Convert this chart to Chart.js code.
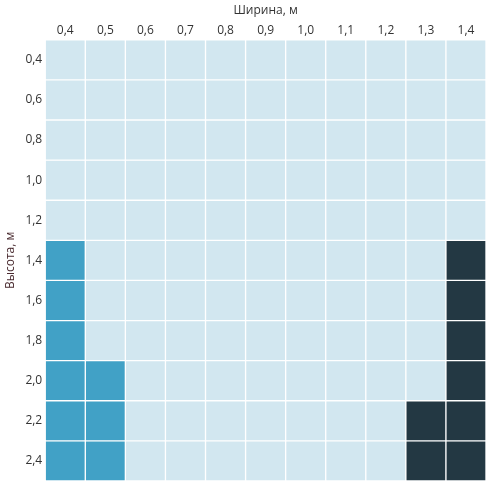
<!DOCTYPE html>
<html lang="ru">
<head>
<meta charset="UTF-8">
<title>Ширина и высота</title>
<script src="https://cdn.jsdelivr.net/npm/chart.js"></script>
<style>
    body { margin: 0; padding: 0; background: #fff; }
    #wrap { width: 500px; height: 500px; }
</style>
</head>
<body>
<div id="wrap"><canvas id="grid" width="500" height="500"></canvas></div>
<script>
    // columns (width, m) and rows (height, m)
    const widths = ['0,4', '0,5', '0,6', '0,7', '0,8', '0,9', '1,0', '1,1', '1,2', '1,3', '1,4'];
    const heights = ['0,4', '0,6', '0,8', '1,0', '1,2', '1,4', '1,6', '1,8', '2,0', '2,2', '2,4'];

    // cell class per row: 0 = light, 1 = blue, 2 = dark
    const row04 = [0,0,0,0,0,0,0,0,0,0,0];
    const row06 = [0,0,0,0,0,0,0,0,0,0,0];
    const row08 = [0,0,0,0,0,0,0,0,0,0,0];
    const row10 = [0,0,0,0,0,0,0,0,0,0,0];
    const row12 = [0,0,0,0,0,0,0,0,0,0,0];
    const row14 = [1,0,0,0,0,0,0,0,0,0,2];
    const row16 = [1,0,0,0,0,0,0,0,0,0,2];
    const row18 = [1,0,0,0,0,0,0,0,0,0,2];
    const row20 = [1,1,0,0,0,0,0,0,0,0,2];
    const row22 = [1,1,0,0,0,0,0,0,0,2,2];
    const row24 = [1,1,0,0,0,0,0,0,0,2,2];
    const rows = [row04, row06, row08, row10, row12, row14, row16, row18, row20, row22, row24];

    const palette = ['#d2e7f0', '#41a1c6', '#233843'];
    const font = { family: "'Open Sans', sans-serif", size: 12 };

    const datasets = rows.map((r, i) => ({
        label: heights[i],
        data: widths.map(() => 1),
        backgroundColor: r.map(c => palette[c]),
        borderColor: '#ffffff',
        borderWidth: 1,
        borderSkipped: false,
        categoryPercentage: 1,
        barPercentage: 1
    }));

    new Chart(document.getElementById('grid'), {
        type: 'bar',
        data: { labels: widths, datasets: datasets },
        options: {
            responsive: false,
            animation: false,
            layout: { padding: { right: 14, bottom: 19 } },
            plugins: { legend: { display: false }, tooltip: { enabled: false } },
            scales: {
                x: {
                    position: 'top',
                    stacked: true,
                    grid: { display: false, drawTicks: false },
                    border: { display: false },
                    ticks: { color: '#333', font: font, padding: 2, maxRotation: 0 },
                    title: { display: true, text: 'Ширина, м', color: '#333', font: font, padding: { top: 3, bottom: 4 } }
                },
                y: {
                    stacked: true,
                    reverse: true,
                    min: 0,
                    max: heights.length,
                    grid: { display: false, drawTicks: false },
                    border: { display: false },
                    afterBuildTicks: axis => { axis.ticks = heights.map((h, i) => ({ value: i + 0.5 })); },
                    ticks: { color: '#333', font: font, padding: 3, callback: (v, i) => heights[i] },
                    title: { display: true, text: 'Высота, м', color: '#4a2b30', font: font, padding: { top: 3, bottom: 5 } }
                }
            }
        }
    });
</script>
</body>
</html>
